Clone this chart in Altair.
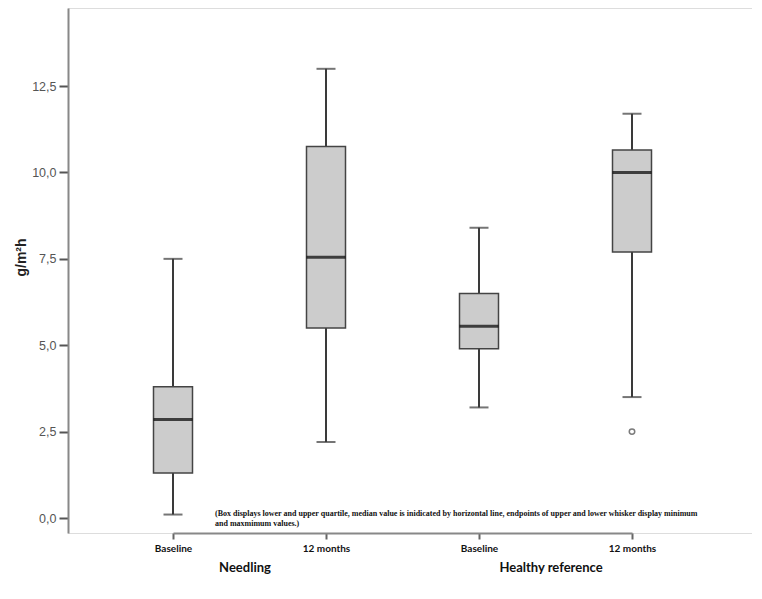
import altair as alt
import pandas as pd

# ---- data ----
groups = ["Needling", "Needling", "Healthy reference", "Healthy reference"]
times = ["Baseline", "12 months", "Baseline", "12 months"]
mins = [0.1, 2.2, 3.2, 3.5]
q1s = [1.3, 5.5, 4.9, 7.7]
medians = [2.85, 7.55, 5.55, 10.0]
q3s = [3.8, 10.75, 6.5, 10.65]
maxs = [7.5, 13.0, 8.4, 11.7]
outlier_group = ["Healthy reference"]
outlier_time = ["12 months"]
outlier_value = [2.5]
group_labels = ["Needling", "Healthy reference"]
note = ["(Box displays lower and upper quartile, median value is inidicated by horizontal line, endpoints of upper and lower whisker display minimum",
        "and maxmimum values.)"]

keys = [g + "|" + t for g, t in zip(groups, times)]
df = pd.DataFrame({"key": keys, "min": mins, "q1": q1s, "med": medians, "q3": q3s, "max": maxs})
out_df = pd.DataFrame({"key": [g + "|" + t for g, t in zip(outlier_group, outlier_time)], "v": outlier_value})
first_keys = [keys[groups.index(g)] for g in group_labels]
grp_df = pd.DataFrame({"key": first_keys, "label": group_labels})

W, H = 684, 525
ydom = [-0.434, 14.76]

xscale = alt.Scale(type="point", padding=0, range=[105, 564])
xenc = alt.X("key:N", sort=keys, scale=xscale,
             axis=alt.Axis(title=None, labelExpr="split(datum.label, '|')[1]", labelAngle=0,
                           labelFont="Lato", labelFontWeight="bold", labelFontSize=10,
                           labelColor="#111", tickSize=6, tickColor="#666", tickWidth=2,
                           labelPadding=4, domainColor="#888", domainWidth=2))
yscale = alt.Scale(domain=ydom, nice=False, zero=False)
yaxis = alt.Axis(title="g/m²h", values=[0, 2.5, 5, 7.5, 10, 12.5],
                 labelExpr="replace(format(datum.value, '.1f'), '.', ',')",
                 labelFont="Arial", labelFontSize=12.5, labelColor="#555", tickSize=9,
                 tickColor="#555", tickWidth=2, labelPadding=3, grid=False,
                 titleFont="Arial", titleFontSize=14, titleFontWeight="bold", titleColor="#222",
                 titlePadding=3, titleY=249, domainColor="#888", domainWidth=2)

base = alt.Chart(df)
whisk = base.mark_rule(color="#3a3a3a", strokeWidth=2).encode(
    x=xenc, y=alt.Y("min:Q", scale=yscale, axis=yaxis), y2="max:Q")
box = base.mark_bar(size=39, color="#cccccc", stroke="#444", strokeWidth=1.5).encode(
    x=alt.X("key:N", sort=keys), y=alt.Y("q1:Q"), y2="q3:Q")
med = base.mark_tick(size=39, thickness=3, color="#000").encode(
    x=alt.X("key:N", sort=keys), y=alt.Y("med:Q"))
capmin = base.mark_tick(size=19, thickness=2, color="#3a3a3a").encode(
    x=alt.X("key:N", sort=keys), y=alt.Y("min:Q"))
capmax = base.mark_tick(size=19, thickness=2, color="#3a3a3a").encode(
    x=alt.X("key:N", sort=keys), y=alt.Y("max:Q"))
outl = alt.Chart(out_df).mark_point(shape="circle", size=30, filled=False, color="#444", strokeWidth=1.5).encode(
    x=alt.X("key:N", sort=keys), y=alt.Y("v:Q"))
grp = alt.Chart(grp_df).mark_text(font="Lato", fontWeight="bold", fontSize=13, color="#111",
                                  align="center", baseline="middle", dx=72).encode(
    x=alt.X("key:N", sort=keys), y=alt.value(H + 35), text="label:N")
note_df = pd.DataFrame({"t": ["\n".join(note)]})
notes = alt.Chart(note_df).mark_text(font="Liberation Serif", fontWeight="bold", fontSize=8, color="#111",
                                     align="left", baseline="middle", lineHeight=10, lineBreak="\n").encode(
    x=alt.value(147), y=alt.value(506), text="t:N")

chart = alt.layer(whisk, box, med, capmin, capmax, outl, grp, notes).properties(
    width=W, height=H,
    autosize=alt.AutoSizeParams(type="none"),
    padding={"left": 60, "top": 0, "right": 0, "bottom": 50},
).configure_view(stroke="#888", strokeWidth=2).configure(background="white")

chart.save("out.html", embed_options={"renderer": "svg", "actions": False})
